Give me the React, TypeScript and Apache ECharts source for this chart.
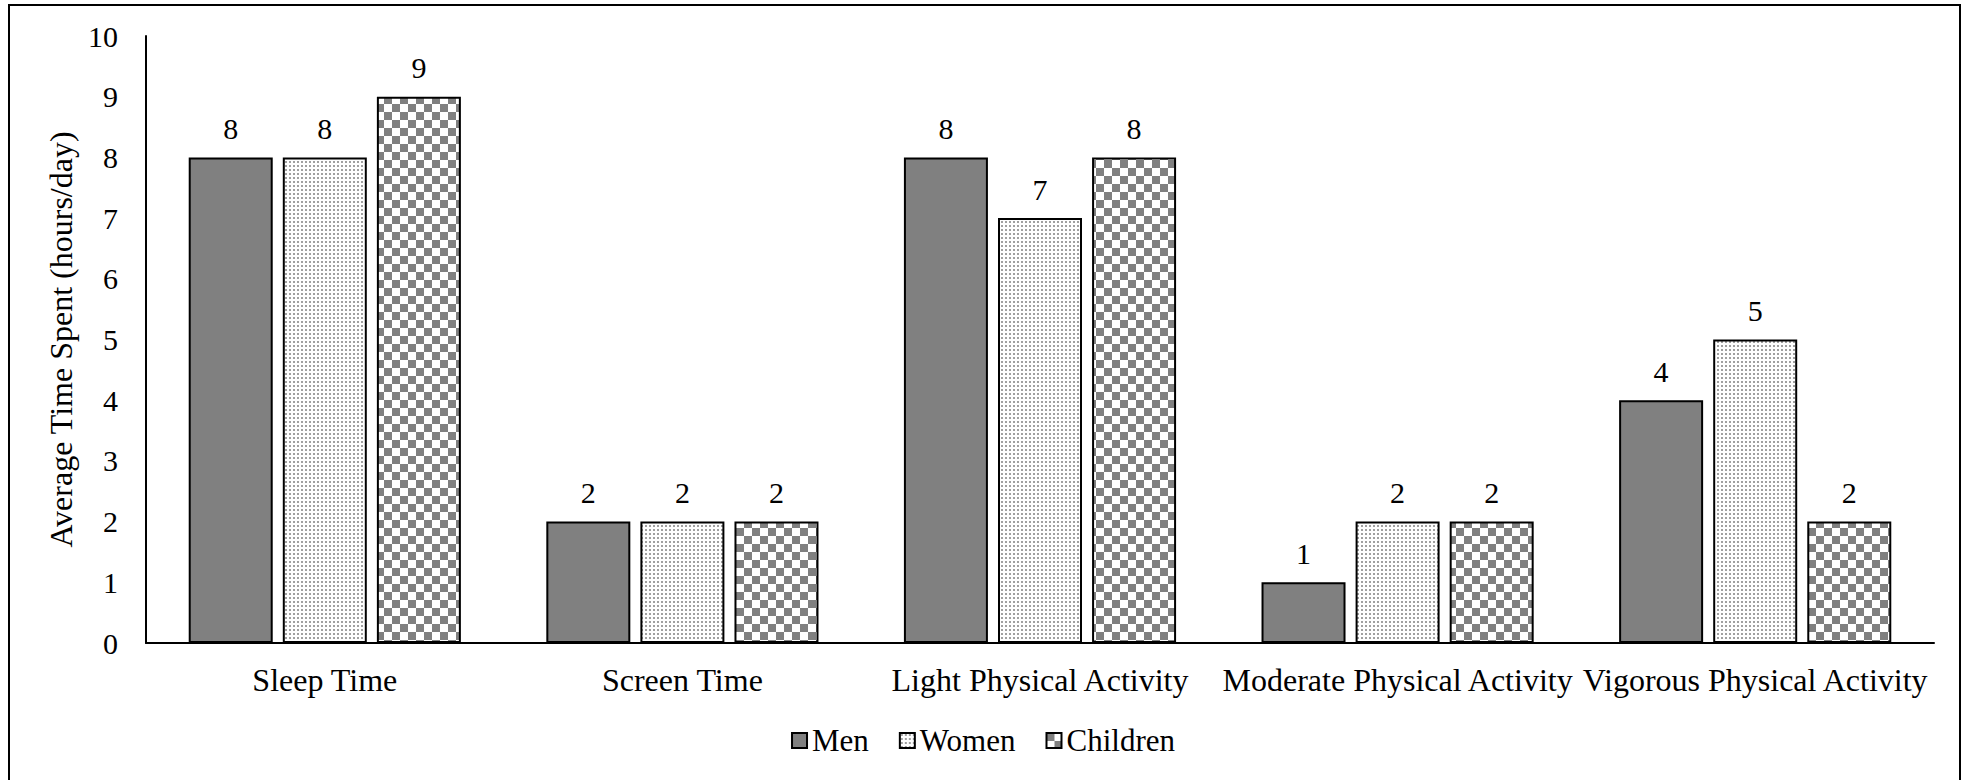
import React, { useEffect, useRef } from "react";
import * as echarts from "echarts";

const categories = [
  "Sleep Time",
  "Screen Time",
  "Light Physical Activity",
  "Moderate Physical Activity",
  "Vigorous Physical Activity",
];
const menValues = [8, 2, 8, 1, 4];
const womenValues = [8, 2, 7, 2, 5];
const childrenValues = [9, 2, 8, 2, 2];
const seriesNames = ["Men", "Women", "Children"];
const yTicks = { min: 0, max: 10, interval: 1 };

const FONT = "'Liberation Serif', 'Times New Roman', serif";

function makeChecker(): string {
  const c = document.createElement("canvas");
  const s = 8;
  c.width = s * 2;
  c.height = s * 2;
  const ctx = c.getContext("2d")!;
  ctx.fillStyle = "#ffffff";
  ctx.fillRect(0, 0, s * 2, s * 2);
  ctx.fillStyle = "#808080";
  ctx.fillRect(0, 0, s, s);
  ctx.fillRect(s, s, s, s);
  return c.toDataURL();
}

function makeDots(): string {
  const c = document.createElement("canvas");
  c.width = 4;
  c.height = 4;
  const ctx = c.getContext("2d")!;
  ctx.fillStyle = "#ffffff";
  ctx.fillRect(0, 0, 4, 4);
  ctx.fillStyle = "#a0a0a0";
  ctx.fillRect(1, 1, 2, 2);
  return c.toDataURL();
}

export default function App() {
  const ref = useRef<HTMLDivElement>(null);
  useEffect(() => {
    if (!ref.current) return;
    const chart = echarts.init(ref.current, undefined, { renderer: "svg" });
    const checker = makeChecker();
    const dots = makeDots();
    const fills: any[] = [
      "#808080",
      { image: dots, repeat: "repeat" },
      { image: checker, repeat: "repeat" },
    ];
    const datasets = [menValues, womenValues, childrenValues];
    const option: any = {
      animation: false,
      backgroundColor: "#ffffff",
      textStyle: { fontFamily: FONT, color: "#000" },
      grid: { left: 146, right: 32, top: 36, bottom: 137, containLabel: false },
      legend: {
        data: seriesNames,
        left: "center",
        top: 720,
        itemWidth: 15,
        itemHeight: 15,
        itemGap: 30,
        icon: "rect",
        textStyle: { fontFamily: FONT, fontSize: 31, color: "#000" },
      },
      xAxis: {
        type: "category",
        data: categories,
        axisLine: { show: true, lineStyle: { color: "#000", width: 2 } },
        axisTick: { show: false },
        axisLabel: { interval: 0, margin: 21, fontFamily: FONT, fontSize: 32, color: "#000" },
      },
      yAxis: {
        type: "value",
        min: yTicks.min,
        max: yTicks.max,
        interval: yTicks.interval,
        name: "Average Time Spent (hours/day)",
        nameLocation: "middle",
        nameRotate: 90,
        nameGap: 66,
        nameTextStyle: { fontFamily: FONT, fontSize: 32, color: "#000" },
        axisLine: { show: true, lineStyle: { color: "#000", width: 2 } },
        axisTick: { show: false },
        splitLine: { show: false },
        axisLabel: { margin: 28, fontFamily: FONT, fontSize: 30, color: "#000" },
      },
      graphic: [
        {
          type: "rect",
          shape: { x: 9, y: 5, width: 1951, height: 800 },
          style: { fill: "none", stroke: "#000", lineWidth: 2 },
          silent: true,
        },
      ],
      series: seriesNames.map((name, i) => ({
        name,
        type: "bar",
        data: datasets[i],
        barWidth: 84,
        barGap: "12%",
        itemStyle: { color: fills[i], borderColor: "#000", borderWidth: 2 },
        label: {
          show: true,
          position: "top",
          distance: 14,
          fontFamily: FONT,
          fontSize: 30,
          color: "#000",
        },
      })),
    };
    chart.setOption(option);
    return () => chart.dispose();
  }, []);
  return (
    <div
      ref={ref}
      style={{ position: "fixed", left: 0, top: 0, width: 1966, height: 780, background: "#fff" }}
    />
  );
}
